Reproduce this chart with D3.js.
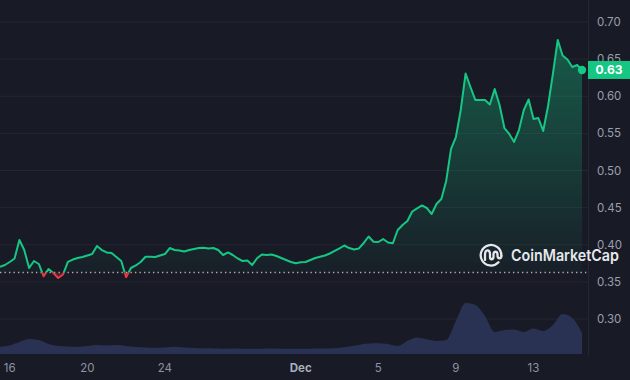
<!DOCTYPE html>
<html><head><meta charset="utf-8">
<script src="https://cdn.jsdelivr.net/npm/d3@7"></script>
<style>html,body{margin:0;padding:0;background:#181a25;} svg{display:block;}</style>
</head><body><svg id="c" width="630" height="380"></svg>
<script>
// ---------- DATA ----------
const startTime = "2024-11-15T12:00:00Z";
const priceStepHours = 6;
const prices = [
0.3704,0.3727,0.3768,0.3815,0.4064,0.3929,0.3687,0.3781,0.3741,0.3575,
0.3673,0.3620,0.3552,0.3600,0.3768,0.3801,0.3822,0.3835,0.3855,0.3875,
0.3983,0.3929,0.3896,0.3889,0.3835,0.3781,0.3562,0.3687,0.3721,0.3768,
0.3839,0.3839,0.3835,0.3855,0.3875,0.3956,0.3929,0.3923,0.3909,0.3929,
0.3943,0.3956,0.3960,0.3950,0.3956,0.3929,0.3862,0.3896,0.3862,0.3815,
0.3781,0.3788,0.3727,0.3818,0.3869,0.3862,0.3869,0.3849,0.3822,0.3795,
0.3768,0.3750,0.3764,0.3768,0.3795,0.3822,0.3839,0.3855,0.3882,0.3916,
0.3950,0.3990,0.3956,0.3936,0.3950,0.4024,0.4111,0.4041,0.4037,0.4077,
0.4030,0.4020,0.4199,0.4266,0.4320,0.4448,0.4491,0.4529,0.4495,0.4414,
0.4549,0.4616,0.4859,0.5290,0.5451,0.5815,0.6306,0.6125,0.5950,0.5950,
0.5950,0.5889,0.6098,0.5882,0.5572,0.5492,0.5384,0.5545,0.5815,0.5956,
0.5694,0.5707,0.5532,0.5869,0.6300,0.6758,0.6549,0.6495,0.6394,0.6421,
0.6354
];
const volumeStepHours = 12;
const volumes = [
7.3,8.5,12,15,14,10,8,7.5,7.3,8,9,8.5,9,8,7,6.5,6.3,6.5,7.3,6.5,
6,5.7,5.5,5.3,5.4,5.3,5.2,5.3,5.4,5.3,5.3,5.2,5.3,5.5,5.5,6.3,7.5,9,10.5,10.7,
10,8,13,16.5,14.7,13,14,33,51,49,38,22,24,24.5,22,25.5,23,29,40,36,21.3
];
const baselinePrice = 0.3626;
const lastPriceLabel = "0.63";
const yTicks = [0.30,0.35,0.40,0.45,0.50,0.55,0.60,0.65,0.70];
const xTickDates = ["2024-11-16","2024-11-20","2024-11-24","2024-12-01","2024-12-05","2024-12-09","2024-12-13"];
const brand = "CoinMarketCap";

// ---------- CHART ----------
const W = 630, H = 380, plotRight = 588;
const svg = d3.select("#c");
const t0 = new Date(startTime);
const HOUR = 3600e3;
const priceData = prices.map((v,i)=>({t:new Date(+t0 + i*priceStepHours*HOUR), v}));
const volData = volumes.map((v,i)=>({t:new Date(+t0 + i*volumeStepHours*HOUR), v}));

const x = d3.scaleUtc().domain([t0, priceData[priceData.length-1].t]).range([0, 582]);
const y = d3.scaleLinear().domain([0.30, 0.70]).range([319, 22]);
const yv = d3.scaleLinear().domain([0, 60]).range([354, 294]);

svg.append("rect").attr("width",W).attr("height",H).attr("fill","#181a25");

// grid
svg.append("g").selectAll("line").data(yTicks).join("line")
  .attr("x1",0).attr("x2",plotRight).attr("y1",d=>y(d)).attr("y2",d=>y(d))
  .attr("stroke","#232633").attr("stroke-width",1);
svg.append("line").attr("x1",plotRight+0.5).attr("x2",plotRight+0.5).attr("y1",0).attr("y2",356)
  .attr("stroke","#232633");

// volume
svg.append("path").datum(volData)
  .attr("d", d3.area().x(d=>x(d.t)).y0(yv(0)).y1(d=>yv(d.v)).curve(d3.curveMonotoneX))
  .attr("fill","#2a3254");

const by = y(baselinePrice);
const defs = svg.append("defs");
defs.append("clipPath").attr("id","above").append("rect").attr("x",0).attr("y",0).attr("width",W).attr("height",by);
defs.append("clipPath").attr("id","below").append("rect").attr("x",0).attr("y",by).attr("width",W).attr("height",H-by);
const grad = defs.append("linearGradient").attr("id","g").attr("gradientUnits","userSpaceOnUse")
  .attr("x1",0).attr("x2",0).attr("y1",y(0.68)).attr("y2",by);
grad.append("stop").attr("offset",0).attr("stop-color","#16c784").attr("stop-opacity",0.38);
grad.append("stop").attr("offset",1).attr("stop-color","#16c784").attr("stop-opacity",0.03);

const area = d3.area().x(d=>x(d.t)).y0(by).y1(d=>y(d.v));
const line = d3.line().x(d=>x(d.t)).y(d=>y(d.v));

svg.append("path").datum(priceData).attr("d",area).attr("fill","url(#g)").attr("clip-path","url(#above)");
svg.append("path").datum(priceData).attr("d",area).attr("fill","rgba(234,57,67,0.25)").attr("clip-path","url(#below)");

// baseline
svg.append("line").attr("x1",0).attr("x2",plotRight).attr("y1",by).attr("y2",by)
  .attr("stroke","#c9ccd4").attr("stroke-width",1.3).attr("stroke-dasharray","1.3,3.2").attr("opacity",0.85);

svg.append("path").datum(priceData).attr("d",line).attr("fill","none")
  .attr("stroke","#16c784").attr("stroke-width",2).attr("stroke-linejoin","round").attr("clip-path","url(#above)");
svg.append("path").datum(priceData).attr("d",line).attr("fill","none")
  .attr("stroke","#ea3943").attr("stroke-width",2).attr("stroke-linejoin","round").attr("clip-path","url(#below)");

const last = priceData[priceData.length-1];
svg.append("circle").attr("cx",x(last.t)).attr("cy",y(last.v)).attr("r",4.2).attr("fill","#16c784");

// logo
const lg = svg.append("g").attr("transform","translate(491,255)");
lg.append("path").attr("d","M7.5,7.3 A10.3,10.3 0 1 1 10.3,0.5")
  .attr("fill","none").attr("stroke","#e6e8ee").attr("stroke-width",2.3).attr("stroke-linecap","round");
lg.append("path").attr("d","M-6,5 V0 C-6,-6 -1,-6 -1,-1 V2 C-1,5 2,5 2.5,2 V-1 C3,-4 6,-4 6.5,-1 V1 C7,4 10,4 10.5,1")
  .attr("fill","none").attr("stroke","#e6e8ee").attr("stroke-width",2.3).attr("stroke-linecap","round").attr("stroke-linejoin","round");
svg.append("text").attr("x",511).attr("y",261).text(brand)
  .attr("font-family","Inter, 'Open Sans', sans-serif").attr("font-weight",600).attr("font-size",16)
  .attr("textLength",108).attr("lengthAdjust","spacingAndGlyphs").attr("fill","#e6e8ee");

// y labels
svg.append("g").selectAll("text").data(yTicks).join("text")
  .attr("x",597).attr("y",d=>y(d)+4).text(d=>d.toFixed(2))
  .attr("font-family","Inter, sans-serif").attr("font-size",11.5).attr("fill","#9a9fae");

// x labels
const fmtDay = d3.utcFormat("%-d"), fmtMon = d3.utcFormat("%b");
svg.append("g").selectAll("text").data(xTickDates.map(s=>new Date(s+"T00:00:00Z"))).join("text")
  .attr("x",d=>x(d)).attr("y",372).attr("text-anchor","middle")
  .text(d=>d.getUTCDate()===1?fmtMon(d):fmtDay(d))
  .attr("font-family","Inter, sans-serif").attr("font-size",11.5)
  .attr("font-weight",d=>d.getUTCDate()===1?700:400)
  .attr("fill",d=>d.getUTCDate()===1?"#a9aebd":"#8e93a2");

// price label
const ly = y(last.v);
svg.append("rect").attr("x",plotRight).attr("y",ly-9).attr("width",W-plotRight).attr("height",18).attr("fill","#16c784");
svg.append("text").attr("x",609).attr("y",ly+4.5).attr("text-anchor","middle").text(lastPriceLabel)
  .attr("font-family","Inter, sans-serif").attr("font-weight",700).attr("font-size",12).attr("fill","#ffffff");
</script></body></html>
